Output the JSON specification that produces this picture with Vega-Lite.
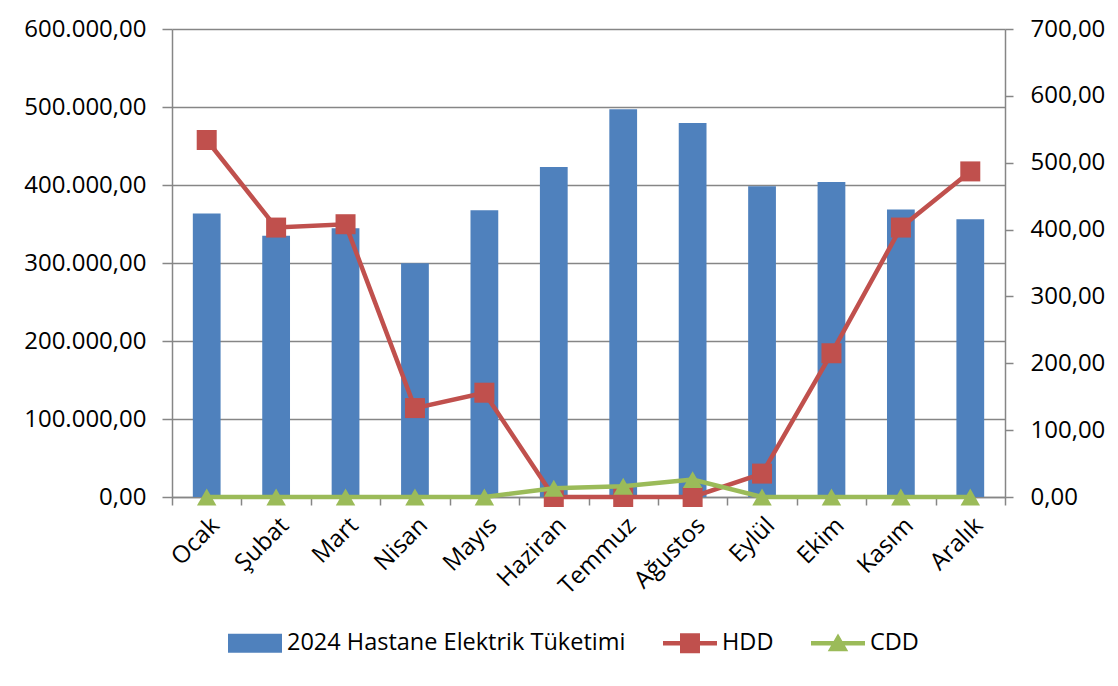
{
  "$schema": "https://vega.github.io/schema/vega-lite/v6.json",
  "width": 833,
  "height": 468,
  "autosize": {"type": "none"},
  "padding": {"left": 172, "top": 29, "right": 113, "bottom": 189},
  "background": "white",
  "config": {
    "locale": {"number": {"decimal": ",", "thousands": ".", "grouping": [3], "currency": ["", ""]}},
    "view": {"stroke": null},
    "font": "Open Sans",
    "axis": {
      "labelFont": "Open Sans",
      "labelFontSize": 24,
      "labelColor": "#000000",
      "domainColor": "#868686",
      "domainWidth": 1.5,
      "tickColor": "#868686",
      "tickWidth": 1.5,
      "gridColor": "#868686",
      "gridWidth": 1.5,
      "title": null
    }
  },
  "data": {
    "values": [
      {"month": "Ocak", "series": "2024 Hastane Elektrik Tüketimi", "value": 363500},
      {"month": "Şubat", "series": "2024 Hastane Elektrik Tüketimi", "value": 335000},
      {"month": "Mart", "series": "2024 Hastane Elektrik Tüketimi", "value": 344500},
      {"month": "Nisan", "series": "2024 Hastane Elektrik Tüketimi", "value": 299600},
      {"month": "Mayıs", "series": "2024 Hastane Elektrik Tüketimi", "value": 367600},
      {"month": "Haziran", "series": "2024 Hastane Elektrik Tüketimi", "value": 423000},
      {"month": "Temmuz", "series": "2024 Hastane Elektrik Tüketimi", "value": 497000},
      {"month": "Ağustos", "series": "2024 Hastane Elektrik Tüketimi", "value": 479500},
      {"month": "Eylül", "series": "2024 Hastane Elektrik Tüketimi", "value": 398500},
      {"month": "Ekim", "series": "2024 Hastane Elektrik Tüketimi", "value": 404000},
      {"month": "Kasım", "series": "2024 Hastane Elektrik Tüketimi", "value": 368500},
      {"month": "Aralık", "series": "2024 Hastane Elektrik Tüketimi", "value": 356000},
      {"month": "Ocak", "series": "HDD", "value": 534},
      {"month": "Şubat", "series": "HDD", "value": 403},
      {"month": "Mart", "series": "HDD", "value": 408},
      {"month": "Nisan", "series": "HDD", "value": 133},
      {"month": "Mayıs", "series": "HDD", "value": 156},
      {"month": "Haziran", "series": "HDD", "value": 0},
      {"month": "Temmuz", "series": "HDD", "value": 0},
      {"month": "Ağustos", "series": "HDD", "value": 0},
      {"month": "Eylül", "series": "HDD", "value": 35},
      {"month": "Ekim", "series": "HDD", "value": 215},
      {"month": "Kasım", "series": "HDD", "value": 403},
      {"month": "Aralık", "series": "HDD", "value": 487},
      {"month": "Ocak", "series": "CDD", "value": 0},
      {"month": "Şubat", "series": "CDD", "value": 0},
      {"month": "Mart", "series": "CDD", "value": 0},
      {"month": "Nisan", "series": "CDD", "value": 0},
      {"month": "Mayıs", "series": "CDD", "value": 0},
      {"month": "Haziran", "series": "CDD", "value": 13},
      {"month": "Temmuz", "series": "CDD", "value": 16},
      {"month": "Ağustos", "series": "CDD", "value": 26},
      {"month": "Eylül", "series": "CDD", "value": 0},
      {"month": "Ekim", "series": "CDD", "value": 0},
      {"month": "Kasım", "series": "CDD", "value": 0},
      {"month": "Aralık", "series": "CDD", "value": 0}
    ]
  },
  "layer": [
    {
      "transform": [{"filter": "datum.series === '2024 Hastane Elektrik Tüketimi'"}],
      "mark": {"type": "bar", "color": "#4F81BD", "width": {"band": 0.4}},
      "encoding": {
        "x": {
          "field": "month", "type": "nominal", "sort": null,
          "scale": {"paddingInner": 0, "paddingOuter": 0},
          "axis": {"labelAngle": -45, "tickBand": "extent", "tickSize": 8, "labelPadding": 8, "title": null}
        },
        "y": {
          "field": "value", "type": "quantitative",
          "scale": {"domain": [0, 600000]},
          "axis": {"orient": "left", "values": [0, 100000, 200000, 300000, 400000, 500000, 600000], "format": ",.2f", "tickSize": 10, "labelPadding": 16, "grid": true, "title": null}
        }
      }
    },
    {
      "mark": {"type": "point", "opacity": 0, "filled": true},
      "encoding": {
        "color": {
          "field": "series", "type": "nominal", "sort": null,
          "scale": {"domain": ["2024 Hastane Elektrik Tüketimi", "HDD", "CDD"], "range": ["#4F81BD", "#C0504D", "#9BBB59"]},
          "legend": {
            "title": null, "orient": "none", "legendX": 56, "legendY": 587, "direction": "horizontal",
            "symbolSize": 2916, "columnPadding": 37, "labelOffset": 5, "labelFontSize": 23.5, "labelFont": "Open Sans",
            "labelColor": "#000000", "labelLimit": 600, "symbolStrokeWidth": 0, "symbolOpacity": 1, "padding": 0,
            "encode": {"symbols": {"update": {"opacity": {"value": 1}, "fillOpacity": {"value": 1}}}}
          }
        },
        "shape": {
          "field": "series", "type": "nominal", "sort": null,
          "scale": {
            "domain": ["2024 Hastane Elektrik Tüketimi", "HDD", "CDD"],
            "range": [
              "M-1,-0.35H1V0.35H-1Z",
              "M-1,-0.085H1V0.085H-1Z M-0.37,-0.37H0.37V0.37H-0.37Z",
              "M-1,-0.085H1V0.085H-1Z M0,-0.36L0.38,0.3H-0.38Z"
            ]
          },
          "legend": {
            "title": null, "orient": "none", "legendX": 56, "legendY": 587, "direction": "horizontal",
            "symbolSize": 2916, "columnPadding": 37, "labelOffset": 5, "labelFontSize": 23.5, "labelFont": "Open Sans",
            "labelColor": "#000000", "labelLimit": 600, "symbolStrokeWidth": 0, "symbolOpacity": 1, "padding": 0,
            "encode": {"symbols": {"update": {"opacity": {"value": 1}, "fillOpacity": {"value": 1}}}}
          }
        }
      }
    },
    {
      "encoding": {
        "x": {"field": "month", "type": "nominal", "sort": null},
        "y": {
          "field": "value", "type": "quantitative",
          "scale": {"domain": [0, 700]},
          "axis": {"orient": "right", "values": [0, 100, 200, 300, 400, 500, 600, 700], "format": ",.2f", "tickSize": 8, "labelPadding": 17, "grid": false, "title": null}
        }
      },
      "layer": [
        {
          "transform": [{"filter": "datum.series === 'HDD'"}],
          "mark": {"type": "line", "color": "#C0504D", "strokeWidth": 4.5, "point": {"shape": "square", "size": 400, "filled": true, "color": "#C0504D", "opacity": 1}}
        },
        {
          "transform": [{"filter": "datum.series === 'CDD'"}],
          "mark": {"type": "line", "color": "#9BBB59", "strokeWidth": 4.5, "point": {"shape": "triangle-up", "size": 380, "filled": true, "color": "#9BBB59", "opacity": 1}}
        }
      ]
    }
  ],
  "resolve": {"scale": {"y": "independent"}}
}
